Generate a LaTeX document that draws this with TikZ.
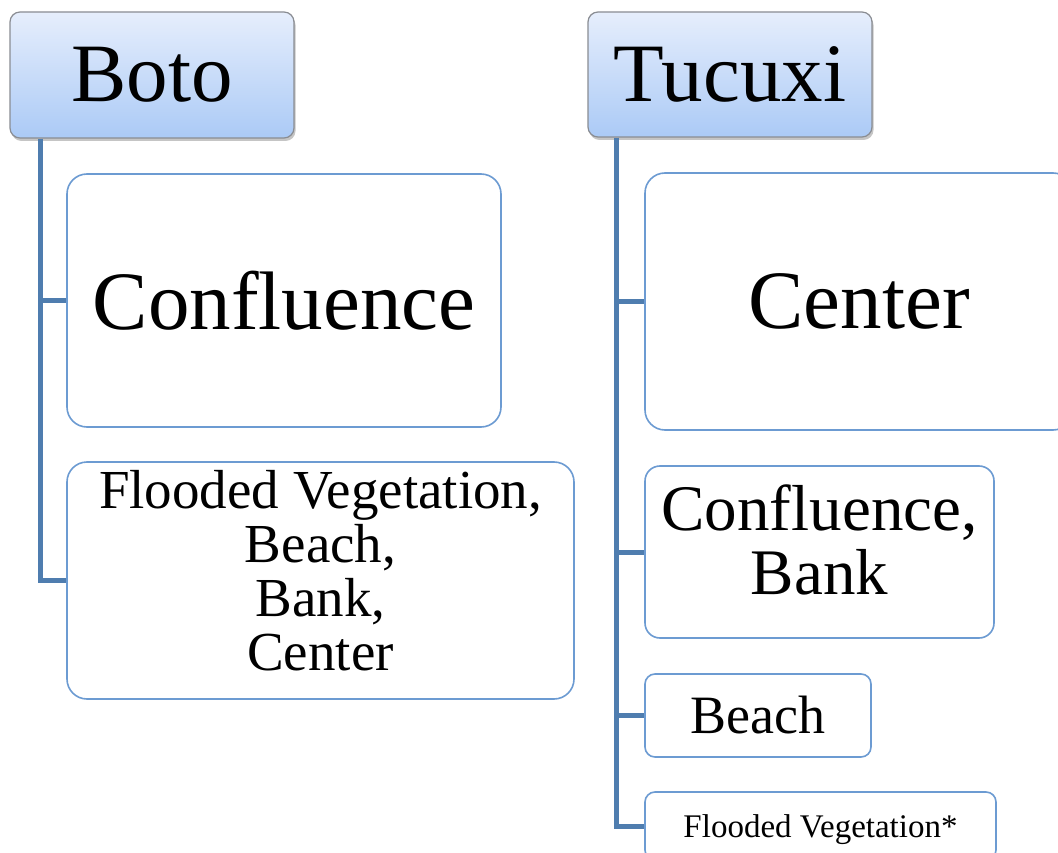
\documentclass[tikz,border=0pt]{standalone}
\usepackage{fontspec}
\setmainfont{Liberation Serif}
\usetikzlibrary{shadows}
\definecolor{hdrtop}{HTML}{E6EEFC}
\definecolor{hdrbot}{HTML}{ABCAF6}
\definecolor{hdrline}{HTML}{8A8D93}
\definecolor{boxline}{HTML}{6C9BD2}
\definecolor{connline}{HTML}{4F7DAF}
\newcommand\liftby[2]{\raisebox{#1}[\height][\depth]{#2}}
\tikzset{
  hdr/.style={draw=hdrline, line width=1.2pt, rounded corners=10pt, top color=hdrtop, bottom color=hdrbot,
    drop shadow={shadow xshift=1.5pt, shadow yshift=-3pt, opacity=0.45}, inner sep=0pt,
    font=\fontsize{83}{90}\selectfont},
  leaf/.style={draw=boxline, line width=1.6pt, fill=white, inner sep=0pt, align=center},
  conn/.style={draw=connline, line width=5pt}
}
\begin{document}
\begin{tikzpicture}[x=1pt,y=-1pt]
\useasboundingbox (0,0) rectangle (1058,853);
\clip (0,0) rectangle (1058,853);
\fill[white] (0,0) rectangle (1058,853);
\coordinate (bx) at (40,0);
\coordinate (tx) at (616,0);
% Boto
\node[hdr, minimum width=284pt, minimum height=126pt] (boto) at (152,75) {Boto};
\node[leaf, rounded corners=20pt, minimum width=434pt, minimum height=253pt,
  font=\fontsize{83}{90}\selectfont] (conf) at (284,300.5) {Confluence};
\node[leaf, rounded corners=20pt, minimum width=507pt, minimum height=237pt,
  font=\fontsize{55}{54}\selectfont] (fv) at (320.5,580.5)
  {\liftby{2pt}{\begin{tabular}{@{}c@{}}Flooded Vegetation,\\Beach,\\Bank,\\Center\end{tabular}}};
% Tucuxi
\node[hdr, minimum width=284pt, minimum height=125pt] (tuc) at (730,74.5) {Tucuxi};
\node[leaf, rounded corners=20pt, minimum width=428pt, minimum height=257pt,
  font=\fontsize{83}{90}\selectfont] (cen) at (859,301.5) {Center};
\node[leaf, rounded corners=15pt, minimum width=349pt, minimum height=172pt,
  font=\fontsize{65}{62}\selectfont] (cb) at (819.5,552)
  {\liftby{3pt}{\begin{tabular}{@{}c@{}}Confluence,\\Bank\end{tabular}}};
\node[leaf, rounded corners=10pt, minimum width=226pt, minimum height=83pt,
  font=\fontsize{54}{60}\selectfont] (beach) at (758,715.5) {Beach};
\node[leaf, rounded corners=10pt, minimum width=351pt, minimum height=68pt,
  font=\fontsize{33}{38}\selectfont] (fvs) at (820.5,826) {\liftby{-4pt}{Flooded Vegetation*}};
% connectors
\draw[conn] (bx |- boto.south) -- (bx |- fv.west) -- (fv.west);
\draw[conn] (bx |- conf.west) -- (conf.west);
\draw[conn] (tx |- tuc.south) -- (tx |- fvs.west) -- (fvs.west);
\draw[conn] (tx |- cen.west) -- (cen.west);
\draw[conn] (tx |- cb.west) -- (cb.west);
\draw[conn] (tx |- beach.west) -- (beach.west);
\end{tikzpicture}
\end{document}
